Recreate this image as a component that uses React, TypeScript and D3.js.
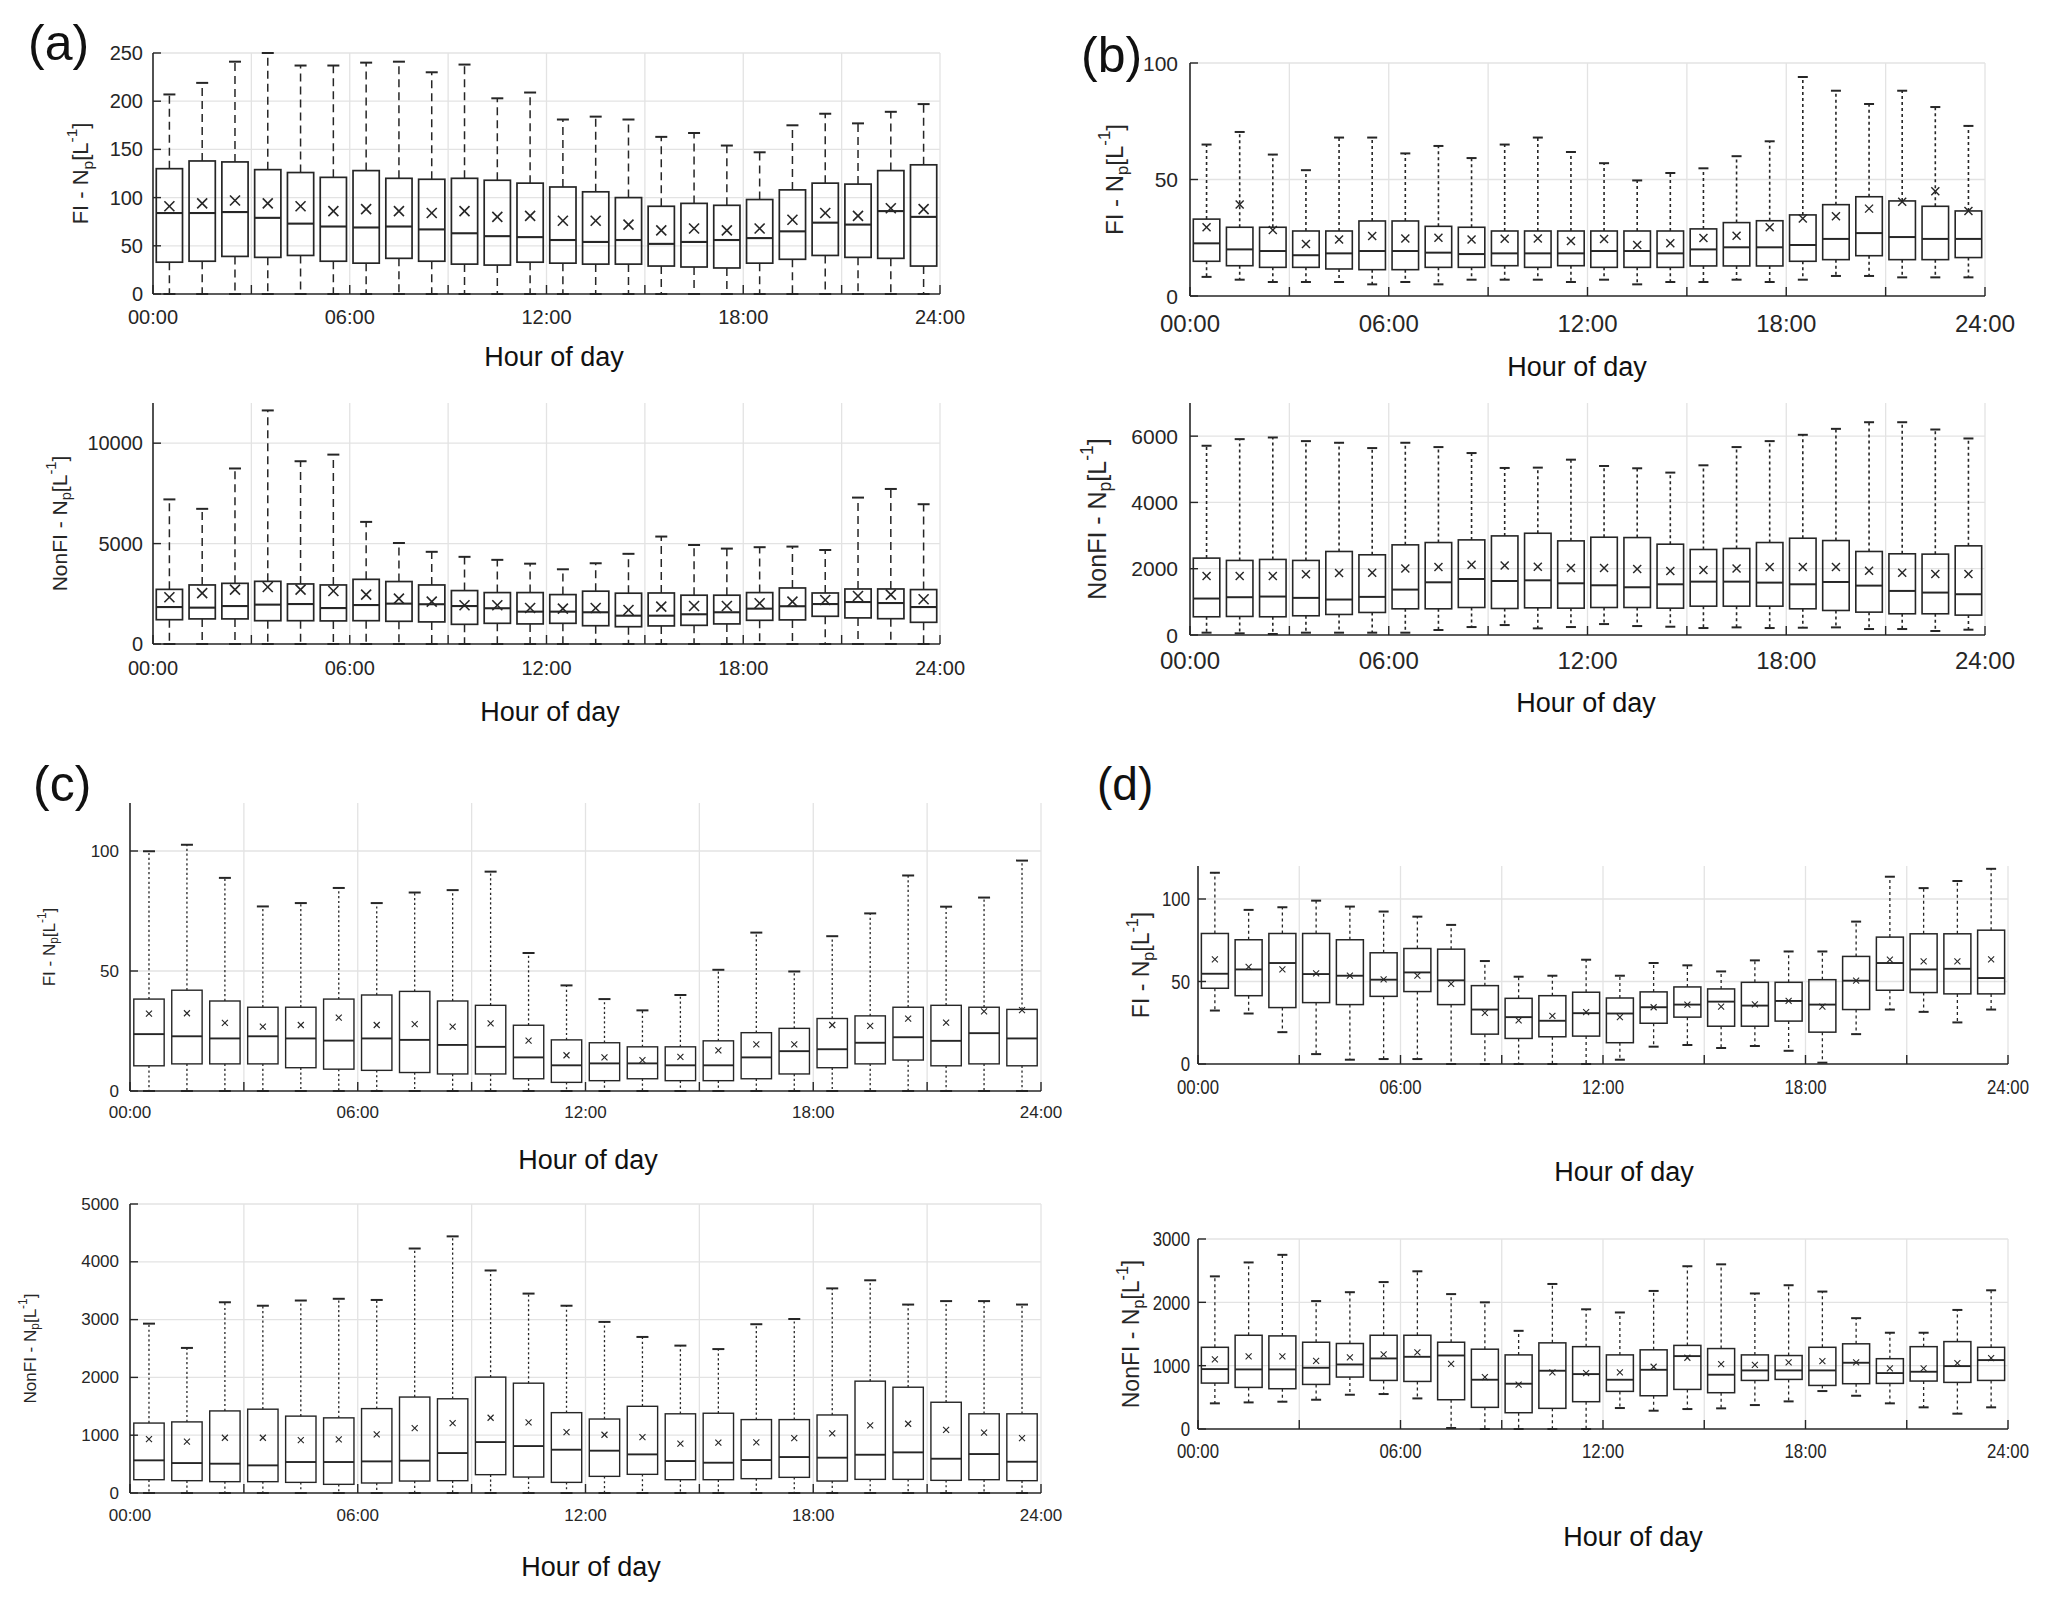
import React from "react";
import * as d3 from "d3";

// ---------- shared axis values ----------
const HOUR_TICKS = [0, 3, 6, 9, 12, 15, 18, 21, 24];
const LABEL_HOURS = [0, 6, 12, 18, 24];
const HOUR_LABELS = ["00:00", "06:00", "12:00", "18:00", "24:00"];
const X_TITLE = "Hour of day";

// ---------- (a) FI ----------
const aFI_hi = [207, 219, 241, 250, 237, 237, 240, 241, 230, 238, 203, 209, 181, 184, 181, 163, 167, 154, 147, 175, 187, 177, 189, 197];
const aFI_q3 = [130, 138, 137, 129, 126, 121, 128, 120, 119, 120, 118, 115, 111, 106, 100, 91, 94, 92, 98, 108, 115, 114, 128, 134];
const aFI_med = [84, 84, 85, 79, 73, 70, 69, 70, 67, 63, 60, 59, 56, 54, 56, 52, 54, 56, 58, 65, 74, 72, 86, 80];
const aFI_q1 = [33, 34, 39, 38, 40, 34, 32, 37, 34, 31, 30, 33, 32, 31, 31, 29, 28, 27, 32, 36, 40, 38, 37, 29];
const aFI_lo = [0, 0, 0, 0, 0, 0, 0, 0, 0, 0, 0, 0, 0, 0, 0, 0, 0, 0, 0, 0, 0, 0, 0, 0];
const aFI_mean = [91, 94, 97, 94, 91, 86, 88, 86, 84, 86, 80, 81, 76, 76, 72, 66, 68, 66, 68, 77, 84, 81, 89, 88];
const aFI_ticks = [0, 50, 100, 150, 200, 250];

// ---------- (a) NonFI ----------
const aNF_hi = [7200, 6730, 8740, 11630, 9100, 9430, 6080, 5030, 4590, 4340, 4190, 4000, 3720, 4020, 4490, 5350, 4930, 4750, 4820, 4850, 4680, 7290, 7720, 6960];
const aNF_q3 = [2720, 2940, 3020, 3120, 2990, 2940, 3220, 3110, 2940, 2660, 2560, 2560, 2460, 2630, 2530, 2540, 2430, 2430, 2560, 2790, 2540, 2740, 2740, 2710];
const aNF_med = [1840, 1810, 1890, 1960, 1990, 1790, 1940, 2010, 1980, 1890, 1780, 1610, 1610, 1580, 1410, 1410, 1480, 1580, 1760, 1880, 1990, 2090, 2040, 1840];
const aNF_q1 = [1210, 1250, 1250, 1160, 1160, 1150, 1160, 1130, 1100, 980, 1030, 1000, 1030, 910, 860, 900, 930, 1000, 1180, 1200, 1380, 1300, 1260, 1080];
const aNF_lo = [0, 0, 0, 0, 0, 0, 0, 0, 0, 0, 0, 0, 0, 0, 0, 0, 0, 0, 0, 0, 0, 0, 0, 0];
const aNF_mean = [2330, 2530, 2710, 2840, 2710, 2640, 2460, 2260, 2110, 1930, 1930, 1790, 1760, 1790, 1690, 1860, 1890, 1890, 2030, 2110, 2190, 2390, 2460, 2230];
const aNF_ticks = [0, 5000, 10000];

// ---------- (b) FI ----------
const bFI_hi = [65, 70.4, 60.7, 54, 68, 68, 61.2, 64.4, 59.2, 65, 68, 61.8, 57, 49.6, 52.8, 54.8, 60, 66.4, 94, 88.1, 82.4, 88.1, 81.1, 73];
const bFI_q3 = [33, 29.5, 29.5, 27.9, 27.9, 32.2, 32.2, 29.9, 29.5, 27.9, 27.9, 27.9, 27.9, 27.9, 27.9, 28.8, 31.5, 32.3, 34.8, 39.2, 42.6, 40.8, 38.5, 36.5];
const bFI_med = [22.6, 20, 19.3, 17.5, 18.3, 19.3, 19.3, 18.6, 18, 18.3, 18.3, 18.3, 19.3, 19.3, 18.3, 20, 20.9, 20.9, 21.9, 24.5, 27, 25.3, 24.5, 24.5];
const bFI_q1 = [14.9, 13, 12.3, 12.3, 11.6, 11.3, 11.3, 12.3, 12.3, 13, 12.3, 13, 12.3, 12.3, 12.3, 12.9, 12.9, 12.9, 14.9, 15.6, 17.3, 15.6, 15.6, 16.5];
const bFI_lo = [8.2, 7, 6, 6, 6, 5, 6, 5, 7, 7, 7, 6, 7, 5, 6, 6, 7, 6, 7, 8.6, 8.6, 8, 8, 8];
const bFI_mean = [29.5, 39.3, 28.3, 22.3, 24.3, 25.8, 24.7, 25, 24.3, 24.6, 24.7, 23.6, 24.5, 21.9, 22.6, 24.9, 25.9, 29.5, 33.3, 34.2, 37.5, 40.5, 45, 36.5];
const bFI_ticks = [0, 50, 100];

// ---------- (b) NonFI ----------
const bNF_hi = [5710, 5910, 5960, 5850, 5800, 5640, 5800, 5670, 5490, 5040, 5050, 5290, 5100, 5030, 4900, 5120, 5670, 5850, 6040, 6220, 6420, 6420, 6200, 5930];
const bNF_q3 = [2320, 2250, 2280, 2250, 2520, 2420, 2720, 2790, 2870, 2990, 3070, 2840, 2950, 2940, 2740, 2580, 2610, 2790, 2920, 2850, 2520, 2450, 2440, 2690];
const bNF_med = [1100, 1140, 1160, 1120, 1070, 1150, 1370, 1590, 1690, 1630, 1650, 1560, 1500, 1440, 1530, 1610, 1610, 1580, 1530, 1600, 1490, 1330, 1280, 1230];
const bNF_q1 = [550, 560, 550, 580, 620, 680, 790, 790, 830, 800, 820, 810, 830, 830, 810, 870, 870, 870, 790, 740, 690, 640, 640, 600];
const bNF_lo = [70, 50, 30, 70, 70, 70, 70, 150, 240, 300, 200, 240, 330, 270, 250, 210, 230, 210, 220, 230, 180, 180, 120, 160];
const bNF_mean = [1780, 1780, 1780, 1830, 1870, 1880, 2010, 2050, 2120, 2100, 2060, 2020, 2020, 1990, 1930, 1960, 2010, 2050, 2050, 2050, 1940, 1880, 1840, 1840];
const bNF_ticks = [0, 2000, 4000, 6000];

// ---------- (c) FI ----------
const cFI_hi = [99.9, 102.6, 88.8, 76.9, 78.3, 84.6, 78.3, 82.7, 83.7, 91.4, 57.5, 44, 38.3, 33.6, 40, 50.5, 66, 49.8, 64.5, 74, 89.8, 76.8, 80.6, 96];
const cFI_q3 = [38.3, 42, 37.5, 34.9, 34.9, 38.3, 40, 41.5, 37.5, 35.7, 27.4, 21.3, 20.1, 18.4, 18.4, 20.9, 24.3, 26.1, 30.2, 31.3, 34.9, 35.7, 34.9, 34];
const cFI_med = [23.7, 22.8, 21.9, 22.8, 21.9, 21, 21.9, 21.3, 19.2, 18.4, 14, 10.7, 11.5, 11.5, 10.7, 10.7, 14, 16.6, 17.4, 20.1, 22.4, 20.9, 24.1, 21.9];
const cFI_q1 = [10.5, 11.3, 11.3, 11.3, 9.7, 9.1, 8.6, 7.7, 7.1, 7.1, 5.1, 3.6, 4.3, 5.1, 4.3, 4.3, 5.1, 7.1, 9.7, 11.3, 12.9, 10.5, 11.3, 10.5];
const cFI_lo = [0, 0, 0, 0, 0, 0, 0, 0, 0, 0, 0, 0, 0, 0, 0, 0, 0, 0, 0, 0, 0, 0, 0, 0];
const cFI_mean = [32.2, 32.4, 28.4, 26.8, 27.5, 30.6, 27.5, 27.9, 26.8, 28.2, 21, 14.9, 14, 12.9, 14.2, 16.9, 19.4, 19.4, 27.5, 27.1, 30.2, 28.5, 33.2, 33.7];
const cFI_ticks = [0, 50, 100];

// ---------- (c) NonFI ----------
const cNF_hi = [2930, 2510, 3300, 3240, 3330, 3360, 3340, 4230, 4440, 3850, 3450, 3240, 2960, 2700, 2550, 2490, 2920, 3010, 3540, 3680, 3260, 3320, 3320, 3260];
const cNF_q3 = [1210, 1230, 1420, 1450, 1330, 1300, 1460, 1660, 1630, 2005, 1900, 1390, 1280, 1500, 1370, 1380, 1270, 1270, 1350, 1935, 1830, 1570, 1370, 1370];
const cNF_med = [565, 518, 507, 478, 536, 536, 547, 559, 691, 881, 812, 749, 732, 668, 553, 524, 570, 622, 611, 662, 703, 593, 674, 541];
const cNF_q1 = [230, 213, 196, 196, 184, 150, 173, 207, 213, 317, 276, 184, 288, 323, 230, 230, 248, 271, 207, 236, 236, 219, 230, 213];
const cNF_lo = [0, 0, 0, 0, 0, 0, 0, 0, 0, 0, 0, 0, 0, 0, 0, 0, 0, 0, 0, 0, 0, 0, 0, 0];
const cNF_mean = [933, 887, 956, 956, 916, 927, 1014, 1123, 1210, 1302, 1221, 1054, 1008, 968, 853, 870, 876, 950, 1031, 1169, 1198, 1094, 1043, 950];
const cNF_ticks = [0, 1000, 2000, 3000, 4000, 5000];

// ---------- (d) FI ----------
const dFI_hi = [115.9, 93.4, 95, 99, 95.4, 92.4, 89.3, 84.3, 62.4, 52.9, 53.5, 63.2, 53.5, 61.2, 59.8, 56.1, 62.8, 68.2, 68.2, 86.3, 113.5, 106.6, 110.9, 118.3];
const dFI_q3 = [79.1, 75.3, 79.1, 79.1, 75.3, 67.4, 70, 69.6, 47.5, 39.8, 41.4, 43.5, 40, 43.7, 46.7, 45.5, 49.5, 49.5, 51.1, 65.2, 76.9, 78.9, 78.9, 81.1];
const dFI_med = [54.7, 57.3, 61.2, 54.5, 53.5, 51.1, 55.5, 50.7, 33, 28.4, 26.2, 30.8, 30.6, 34.4, 36, 37.8, 35.4, 38.2, 36, 50.5, 61.2, 57.3, 57.7, 52.1];
const dFI_q1 = [45.9, 41.4, 34.2, 37.2, 36, 41, 43.9, 36, 18.1, 15.5, 16.5, 16.9, 12.9, 24.7, 28.4, 22.9, 22.9, 26, 19.3, 33, 44.7, 43.3, 42.5, 42.5];
const dFI_lo = [32.4, 30.6, 19.3, 6, 2.6, 3, 3, 0, 0, 0, 0, 0, 2.6, 10.5, 11.5, 9.7, 10.9, 8, 0.8, 18.1, 33, 31.6, 25.2, 33];
const dFI_mean = [63.4, 58.8, 57.3, 54.9, 53.5, 51.3, 53.5, 48.5, 31, 26.4, 29.2, 31.4, 28.4, 34.4, 36, 34.8, 36.2, 38.2, 34.8, 50.5, 63.2, 62.2, 62.2, 63.4];
const dFI_ticks = [0, 50, 100];

// ---------- (d) NonFI ----------
const dNF_hi = [2410, 2630, 2750, 2020, 2160, 2320, 2490, 2130, 2000, 1550, 2290, 1890, 1840, 2180, 2570, 2600, 2140, 2270, 2170, 1750, 1520, 1520, 1880, 2190];
const dNF_q3 = [1290, 1480, 1470, 1370, 1350, 1480, 1480, 1370, 1260, 1170, 1360, 1300, 1170, 1250, 1320, 1270, 1170, 1160, 1290, 1345, 1110, 1300, 1380, 1290];
const dNF_med = [946, 941, 941, 967, 1019, 1114, 1140, 1161, 778, 715, 920, 867, 778, 935, 1151, 857, 925, 925, 925, 1046, 883, 904, 993, 1088];
const dNF_q1 = [725, 657, 636, 704, 820, 767, 751, 462, 342, 257, 326, 431, 594, 525, 625, 573, 767, 783, 688, 715, 720, 757, 736, 767];
const dNF_lo = [405, 420, 431, 462, 541, 552, 483, 16, 0, 0, 0, 0, 331, 289, 315, 326, 378, 436, 599, 525, 405, 342, 242, 342];
const dNF_mean = [1098, 1146, 1146, 1077, 1130, 1177, 1209, 1030, 820, 699, 893, 883, 893, 983, 1125, 1025, 1014, 1051, 1072, 1051, 956, 956, 1040, 1119];
const dNF_ticks = [0, 1000, 2000, 3000];

// ---------- drawing ----------
const FONT = "'Liberation Sans', Arial, Helvetica, sans-serif";
const INK = "#262626";
const GRID = "#e3e3e3";

type Series = { hi: number[]; q3: number[]; med: number[]; q1: number[]; lo: number[]; mean: number[] };

type Style = {
  dash: string; whiskerW: number; boxW: number; medW: number;
  capHalf: number; meanHalf: number; meanW: number;
  tickFont: number; xTickFont: number; tickGap: number; sx: number;
  yLabFont: number;
};

type Cfg = {
  s: Series; ymax: number; yticks: number[];
  x0: number; x1: number; yTop: number; yBot: number;
  prefix: string; yLabX: number; xTickY: number; titleX: number; titleY: number;
  st: Style;
};

const styleA: Style = { dash: "8,5", whiskerW: 1.5, boxW: 1.7, medW: 2.1, capHalf: 6, meanHalf: 5, meanW: 1.6, tickFont: 20, xTickFont: 20, tickGap: 10, sx: 1, yLabFont: 22 };
const styleB: Style = { dash: "3,3", whiskerW: 1.6, boxW: 1.6, medW: 2, capHalf: 5, meanHalf: 4, meanW: 1.4, tickFont: 21, xTickFont: 24, tickGap: 12, sx: 1, yLabFont: 24 };
const styleC: Style = { dash: "2.2,2.6", whiskerW: 1.3, boxW: 1.4, medW: 1.9, capHalf: 6, meanHalf: 3, meanW: 1.1, tickFont: 17, xTickFont: 17, tickGap: 11, sx: 1, yLabFont: 17 };
const styleD: Style = { dash: "3,3", whiskerW: 1.3, boxW: 1.5, medW: 1.9, capHalf: 5, meanHalf: 3, meanW: 1.1, tickFont: 21, xTickFont: 21, tickGap: 8, sx: 0.8, yLabFont: 23 };

function mk(hi: number[], q3: number[], med: number[], q1: number[], lo: number[], mean: number[]): Series {
  return { hi, q3, med, q1, lo, mean };
}

const PANELS: Cfg[] = [
  { s: mk(aFI_hi, aFI_q3, aFI_med, aFI_q1, aFI_lo, aFI_mean), ymax: 250, yticks: aFI_ticks, x0: 153, x1: 940, yTop: 53, yBot: 294, prefix: "FI", yLabX: 80, xTickY: 317, titleX: 554, titleY: 357, st: styleA },
  { s: mk(aNF_hi, aNF_q3, aNF_med, aNF_q1, aNF_lo, aNF_mean), ymax: 12000, yticks: aNF_ticks, x0: 153, x1: 940, yTop: 403, yBot: 644, prefix: "NonFI", yLabX: 59, xTickY: 668, titleX: 550, titleY: 712, st: { ...styleA, yLabFont: 21 } },
  { s: mk(bFI_hi, bFI_q3, bFI_med, bFI_q1, bFI_lo, bFI_mean), ymax: 100, yticks: bFI_ticks, x0: 1190, x1: 1985, yTop: 63, yBot: 296, prefix: "FI", yLabX: 1114, xTickY: 323, titleX: 1577, titleY: 367, st: styleB },
  { s: mk(bNF_hi, bNF_q3, bNF_med, bNF_q1, bNF_lo, bNF_mean), ymax: 7000, yticks: bNF_ticks, x0: 1190, x1: 1985, yTop: 403, yBot: 635, prefix: "NonFI", yLabX: 1097, xTickY: 660, titleX: 1586, titleY: 703, st: { ...styleB, yLabFont: 25 } },
  { s: mk(cFI_hi, cFI_q3, cFI_med, cFI_q1, cFI_lo, cFI_mean), ymax: 120, yticks: cFI_ticks, x0: 130, x1: 1041, yTop: 803, yBot: 1091, prefix: "FI", yLabX: 49, xTickY: 1112, titleX: 588, titleY: 1160, st: styleC },
  { s: mk(cNF_hi, cNF_q3, cNF_med, cNF_q1, cNF_lo, cNF_mean), ymax: 5000, yticks: cNF_ticks, x0: 130, x1: 1041, yTop: 1204, yBot: 1493, prefix: "NonFI", yLabX: 30, xTickY: 1515, titleX: 591, titleY: 1567, st: styleC },
  { s: mk(dFI_hi, dFI_q3, dFI_med, dFI_q1, dFI_lo, dFI_mean), ymax: 120, yticks: dFI_ticks, x0: 1198, x1: 2008, yTop: 866, yBot: 1064, prefix: "FI", yLabX: 1141, xTickY: 1087, titleX: 1624, titleY: 1172, st: styleD },
  { s: mk(dNF_hi, dNF_q3, dNF_med, dNF_q1, dNF_lo, dNF_mean), ymax: 3000, yticks: dNF_ticks, x0: 1198, x1: 2008, yTop: 1239, yBot: 1429, prefix: "NonFI", yLabX: 1131, xTickY: 1451, titleX: 1633, titleY: 1537, st: styleD },
];

const LETTERS = [
  { t: "(a)", x: 28, y: 60, size: 50 },
  { t: "(b)", x: 1081, y: 72, size: 50 },
  { t: "(c)", x: 33, y: 801, size: 50 },
  { t: "(d)", x: 1097, y: 800, size: 46 },
];

function SText(props: { x: number; y: number; sx: number; size: number; anchor: string; children: React.ReactNode }) {
  const { x, y, sx, size, anchor, children } = props;
  return (
    <text
      transform={`translate(${x},${y}) scale(${sx},1)`}
      textAnchor={anchor as any}
      dominantBaseline="central"
      fontSize={size}
      fontFamily={FONT}
      fill={INK}
    >
      {children}
    </text>
  );
}

function YLabel({ x, y, size, prefix }: { x: number; y: number; size: number; prefix: string }) {
  return (
    <text
      transform={`translate(${x},${y}) rotate(-90)`}
      textAnchor="middle"
      dominantBaseline="central"
      fontSize={size}
      fontFamily={FONT}
      fill={INK}
    >
      <tspan>{prefix + " - N"}</tspan>
      <tspan dy={size * 0.32} fontSize={size * 0.7}>p</tspan>
      <tspan dy={-size * 0.32}>[L</tspan>
      <tspan dy={-size * 0.4} fontSize={size * 0.7}>-1</tspan>
      <tspan dy={size * 0.4}>]</tspan>
    </text>
  );
}

function Panel({ c }: { c: Cfg }) {
  const st = c.st;
  const x = d3.scaleLinear().domain([0, 24]).range([c.x0, c.x1]);
  const y = d3.scaleLinear().domain([0, c.ymax]).range([c.yBot, c.yTop]);
  const slot = x(1) - x(0);
  const bw = slot * 0.8;
  const idx = d3.range(c.s.q3.length);
  const yMid = (c.yTop + c.yBot) / 2;

  return (
    <g>
      {/* grid */}
      {c.yticks.filter((v) => v > 0).map((v) => (
        <line key={"gy" + v} x1={c.x0} x2={c.x1} y1={y(v)} y2={y(v)} stroke={GRID} strokeWidth={1.3} />
      ))}
      {HOUR_TICKS.filter((h) => h > 0).map((h) => (
        <line key={"gx" + h} x1={x(h)} x2={x(h)} y1={c.yTop} y2={c.yBot} stroke={GRID} strokeWidth={1.3} />
      ))}

      {/* boxes */}
      {idx.map((i) => {
        const cx = x(i + 0.5);
        const hi = y(c.s.hi[i]);
        const q3 = y(c.s.q3[i]);
        const md = y(c.s.med[i]);
        const q1 = y(c.s.q1[i]);
        const lo = y(c.s.lo[i]);
        const my = y(c.s.mean[i]);
        const m = st.meanHalf;
        return (
          <g key={"b" + i}>
            <line x1={cx} x2={cx} y1={q3} y2={hi} stroke={INK} strokeWidth={st.whiskerW} strokeDasharray={st.dash} />
            <line x1={cx} x2={cx} y1={q1} y2={lo} stroke={INK} strokeWidth={st.whiskerW} strokeDasharray={st.dash} />
            <line x1={cx - st.capHalf} x2={cx + st.capHalf} y1={hi} y2={hi} stroke={INK} strokeWidth={2} />
            <line x1={cx - st.capHalf} x2={cx + st.capHalf} y1={lo} y2={lo} stroke={INK} strokeWidth={2} />
            <rect x={cx - bw / 2} y={q3} width={bw} height={q1 - q3} fill="none" stroke={INK} strokeWidth={st.boxW} />
            <line x1={cx - bw / 2} x2={cx + bw / 2} y1={md} y2={md} stroke={INK} strokeWidth={st.medW} />
            <line x1={cx - m} x2={cx + m} y1={my - m} y2={my + m} stroke={INK} strokeWidth={st.meanW} />
            <line x1={cx - m} x2={cx + m} y1={my + m} y2={my - m} stroke={INK} strokeWidth={st.meanW} />
          </g>
        );
      })}

      {/* axes */}
      <line x1={c.x0} x2={c.x0} y1={c.yTop} y2={c.yBot} stroke={INK} strokeWidth={1.6} />
      <line x1={c.x0} x2={c.x1} y1={c.yBot} y2={c.yBot} stroke={INK} strokeWidth={1.6} />
      {c.yticks.map((v) => (
        <line key={"ty" + v} x1={c.x0} x2={c.x0 + 8} y1={y(v)} y2={y(v)} stroke={INK} strokeWidth={1.4} />
      ))}
      {HOUR_TICKS.map((h) => (
        <line key={"tx" + h} x1={x(h)} x2={x(h)} y1={c.yBot} y2={c.yBot - 9} stroke={INK} strokeWidth={1.4} />
      ))}

      {/* tick labels */}
      {c.yticks.map((v) => (
        <SText key={"ly" + v} x={c.x0 - st.tickGap} y={y(v)} sx={st.sx} size={st.tickFont} anchor="end">
          {String(v)}
        </SText>
      ))}
      {LABEL_HOURS.map((h, k) => (
        <SText key={"lx" + h} x={x(h)} y={c.xTickY} sx={st.sx} size={st.xTickFont} anchor="middle">
          {HOUR_LABELS[k]}
        </SText>
      ))}

      <YLabel x={c.yLabX} y={yMid} size={st.yLabFont} prefix={c.prefix} />
      <text x={c.titleX} y={c.titleY} textAnchor="middle" dominantBaseline="central" fontSize={27} fontFamily={FONT} fill="#111">
        {X_TITLE}
      </text>
    </g>
  );
}

export default function App() {
  return (
    <svg
      width={2067}
      height={1601}
      viewBox="0 0 2067 1601"
      style={{ position: "absolute", left: 0, top: 0, background: "#ffffff" }}
    >
      <rect x={0} y={0} width={2067} height={1601} fill="#ffffff" />
      {PANELS.map((c, i) => (
        <Panel key={i} c={c} />
      ))}
      {LETTERS.map((l) => (
        <text key={l.t} x={l.x} y={l.y} fontSize={l.size} fontFamily={FONT} fill="#111">
          {l.t}
        </text>
      ))}
    </svg>
  );
}
